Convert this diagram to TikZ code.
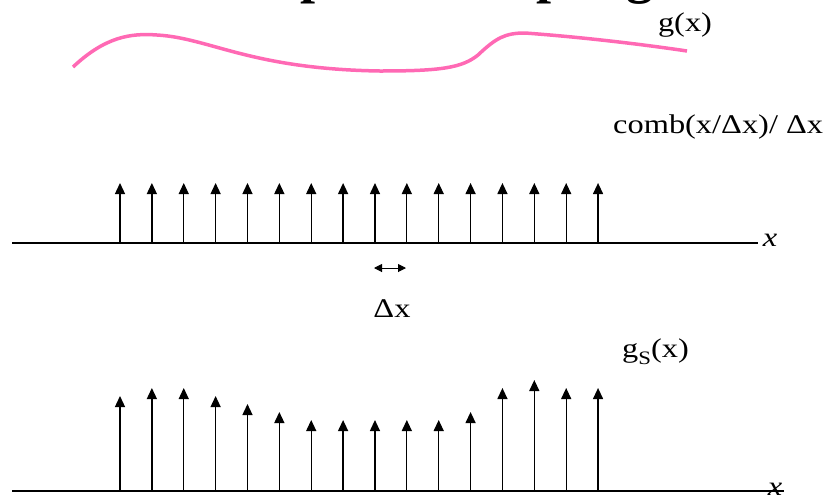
\documentclass[tikz,border=0pt]{standalone}
\usepackage{fontspec}
\setmainfont{Liberation Serif}
\newfontfamily\labfont{Liberation Serif}[FakeStretch=1.2]
\usetikzlibrary{arrows.meta}
\definecolor{curvepink}{RGB}{255,105,180}
\begin{document}
\begin{tikzpicture}[x=1pt, y=-1pt,
  every node/.style={inner sep=0pt, font=\labfont\fontsize{27}{30}\selectfont},
  spike/.style={-{Triangle[width=10pt,length=11pt]}, line width=1.3pt},
  axisline/.style={line width=1.4pt}]
  \clip (0,0) rectangle (824,499);
  % Title (cut off at the top)
  \node[anchor=base, font=\fontsize{54}{60}\selectfont\bfseries] (title) at (444,-7.5) {Impulse Sampling};
  % g(x)
  \draw[curvepink, line width=3.5pt] (73,67) .. controls (105,37) and (130,33) .. (157,35)
    .. controls (210,38) and (250,69) .. (380,71)
    .. controls (440,71) and (462,68) .. (478,55)
    .. controls (496,38) and (505,33) .. (525,33)
    .. controls (580,37) and (640,44) .. (687,51);
  \node[anchor=base] (glbl) at (685,31) {g(x)};
  % comb(x/dx)/dx
  \node[anchor=base west] (comblbl) at (613,133) {comb(x/Δx)/ Δx};
  \coordinate (ma) at (12,243);
  \coordinate (mb) at (758,243);
  \draw[axisline] (ma) -- (mb);
  \node[anchor=base, font=\labfont\itshape\fontsize{27}{30}\selectfont] (mx) at (770,246) {x};
  \foreach \i in {0,...,15} {
    \coordinate (cb\i) at ({120+31.87*\i},243);
    \coordinate (ct\i) at ({120+31.87*\i},183);
    \draw[spike] (cb\i) -- (ct\i);
  }
  % spacing
  \coordinate (dl) at (374,268);
  \coordinate (dr) at (406,268);
  \draw[{Triangle[width=8pt,length=8pt]}-{Triangle[width=8pt,length=8pt]}, line width=1pt] (dl) -- (dr);
  \node[anchor=base] (dxlbl) at (392,317) {Δx};
  % g_S(x)
  \node[anchor=base west] (gslbl) at (622,357) {g\raisebox{-0.28em}{\fontsize{19}{20}\selectfont S}(x)};
  \coordinate (ba) at (12,491);
  \coordinate (bb) at (784,491);
  \draw[axisline] (ba) -- (bb);
  \node[anchor=base, font=\labfont\itshape\fontsize{27}{30}\selectfont] (bx) at (775,495) {x};
  \foreach \h [count=\n from 0] in {396,388,388,396,404,412,420,420,420,420,420,412,388,380,388,388} {
    \coordinate (sb\n) at ({120+31.87*\n},491);
    \coordinate (st\n) at ({120+31.87*\n},\h);
    \draw[spike] (sb\n) -- (st\n);
  }
\end{tikzpicture}
\end{document}
